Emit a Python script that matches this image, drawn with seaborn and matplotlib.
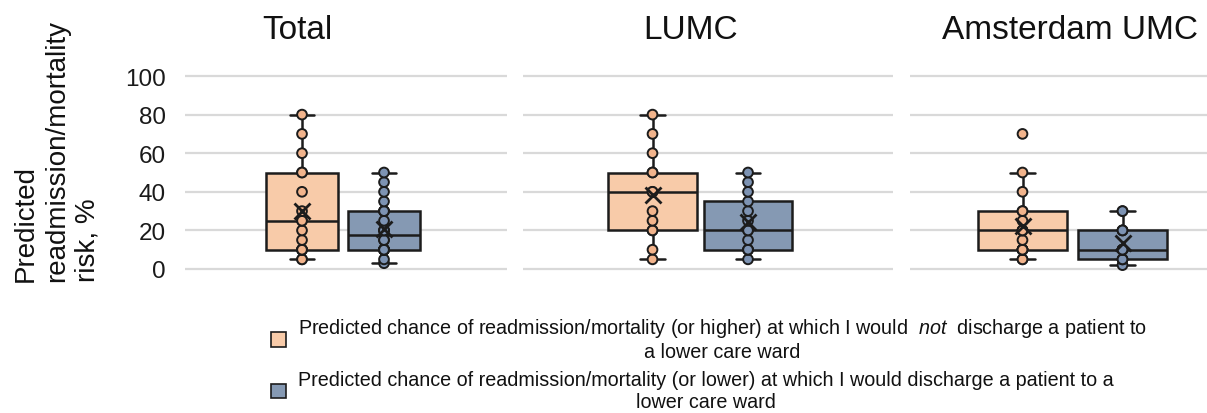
import numpy as np
import pandas as pd
import matplotlib
matplotlib.use("Agg")
import matplotlib.pyplot as plt
import seaborn as sns
from matplotlib.patches import Patch

sns.set_theme(style="white")
plt.rcParams['font.family'] = ['Liberation Sans', 'DejaVu Sans']
plt.rcParams['mathtext.fontset'] = 'custom'
plt.rcParams['mathtext.rm'] = 'Liberation Sans'
plt.rcParams['mathtext.it'] = 'Liberation Sans:italic'

# ---------------- data ----------------
panels = ["Total", "LUMC", "Amsterdam UMC"]
groups = ["not discharge", "discharge"]

total_not_discharge = [5, 5, 10, 10, 10, 10, 15, 20, 25, 25, 30, 40, 50, 50, 60, 70, 80]
total_discharge = [3, 5, 10, 10, 10, 10, 10, 10, 10, 15, 15, 20, 20, 20, 25, 30, 30, 30, 35, 40, 45, 50]
lumc_not_discharge = [5, 10, 20, 20, 25, 30, 40, 40, 50, 50, 60, 70, 80]
lumc_discharge = [5, 10, 10, 10, 15, 20, 20, 25, 30, 35, 40, 45, 50]
ams_not_discharge = [5, 5, 10, 10, 10, 10, 10, 15, 20, 20, 20, 25, 30, 30, 40, 50, 70]
ams_discharge = [2, 5, 5, 5, 10, 10, 10, 10, 20, 20, 20, 30, 30]

panel_data = {
    "Total": (total_not_discharge, total_discharge),
    "LUMC": (lumc_not_discharge, lumc_discharge),
    "Amsterdam UMC": (ams_not_discharge, ams_discharge),
}

y_ticks = [0, 20, 40, 60, 80, 100]
legend_labels = [
    "Predicted chance of readmission/mortality (or higher) at which I would  $\\mathit{not}$  discharge a patient to\na lower care ward",
    "Predicted chance of readmission/mortality (or lower) at which I would discharge a patient to a\nlower care ward",
]
y_label = "Predicted\nreadmission/mortality\nrisk, %"

# ---------------- style ----------------
box_colors = {"not discharge": "#F8CBA9", "discharge": "#8599B3"}
pt_colors = {"not discharge": "#F2B48C", "discharge": "#7D93B3"}
edge = "#1c1c1c"
grid_color = "#D9D9D9"

W, H = 1207, 414
fig = plt.figure(figsize=(W / 100, H / 100), dpi=100)

# layout: axes rectangles (pixels) and x-limits per panel
layout = {
    "Total": dict(left=185, right=507, xlim=(-1.427, 2.5), width=0.88, cap=0.30, title_x=297.5),
    "LUMC": dict(left=523, right=893, xlim=(-1.356, 2.518), width=0.93, cap=0.26, title_x=691),
    "Amsterdam UMC": dict(left=910, right=1207, xlim=(-1.125, 1.845), width=0.89, cap=0.25, title_x=1070.5),
}
y_top_px, y_bot_px = 75.07, 271.93

for i, name in enumerate(panels):
    lay = layout[name]
    ax = fig.add_axes([lay["left"] / W, (H - y_bot_px) / H,
                       (lay["right"] - lay["left"]) / W, (y_bot_px - y_top_px) / H])
    a, b = panel_data[name]
    df = pd.DataFrame({"group": [groups[0]] * len(a) + [groups[1]] * len(b),
                       "value": list(a) + list(b)})

    sns.boxplot(data=df, x="group", y="value", hue="group", order=groups,
                hue_order=groups, palette=box_colors, saturation=1,
                width=lay["width"], showfliers=False, showmeans=True,
                meanprops=dict(marker="x", markeredgecolor=edge,
                               markersize=11, markeredgewidth=2),
                linecolor=edge, linewidth=1.8, capwidths=lay["cap"],
                legend=False, ax=ax)
    sns.stripplot(data=df, x="group", y="value", hue="group", order=groups,
                  hue_order=groups, palette=pt_colors, jitter=False, size=7,
                  linewidth=1.4, edgecolor=edge, legend=False, ax=ax,
                  zorder=4, clip_on=False)
    for ln in ax.lines:
        if ln.get_marker() == "x":
            ln.set_zorder(10)

    ax.set_xlim(*lay["xlim"])
    ax.set_ylim(-1, 101)
    ax.set_yticks(y_ticks)
    ax.yaxis.grid(True, color=grid_color, linewidth=1.6)
    ax.set_axisbelow(True)
    for sp in ax.spines.values():
        sp.set_visible(False)
    ax.set_xlabel("")
    ax.set_ylabel("")
    ax.set_xticks([])
    ax.tick_params(axis="y", length=0, pad=14, labelsize=17.5, labelcolor="#1a1a1a")
    if i > 0:
        ax.set_yticklabels([])
    ax.patch.set_alpha(0)

    fig.text(lay["title_x"] / W, (H - 39) / H, name, ha="center", va="baseline",
             fontsize=24, color="#111111")

fig.text(13 / W, (H - 282) / H, y_label, rotation=90, ha="left", va="bottom",
         multialignment="left", fontsize=20, linespacing=1.25, color="#111111")

handles = [Patch(facecolor=box_colors[g], edgecolor=edge, linewidth=1.2) for g in groups]
leg = fig.legend(handles, legend_labels, loc="upper left",
                 bbox_to_anchor=(271 / W, (H - 317) / H), frameon=False,
                 fontsize=14.2, handlelength=0.78, handleheight=0.78,
                 handletextpad=0.57, labelspacing=0.45, borderpad=0,
                 borderaxespad=0)
for t in leg.get_texts():
    t.set_multialignment("center")
    t.set_linespacing(1.2)
    t.set_color("#111111")

fig.savefig("out.png", dpi=100)
